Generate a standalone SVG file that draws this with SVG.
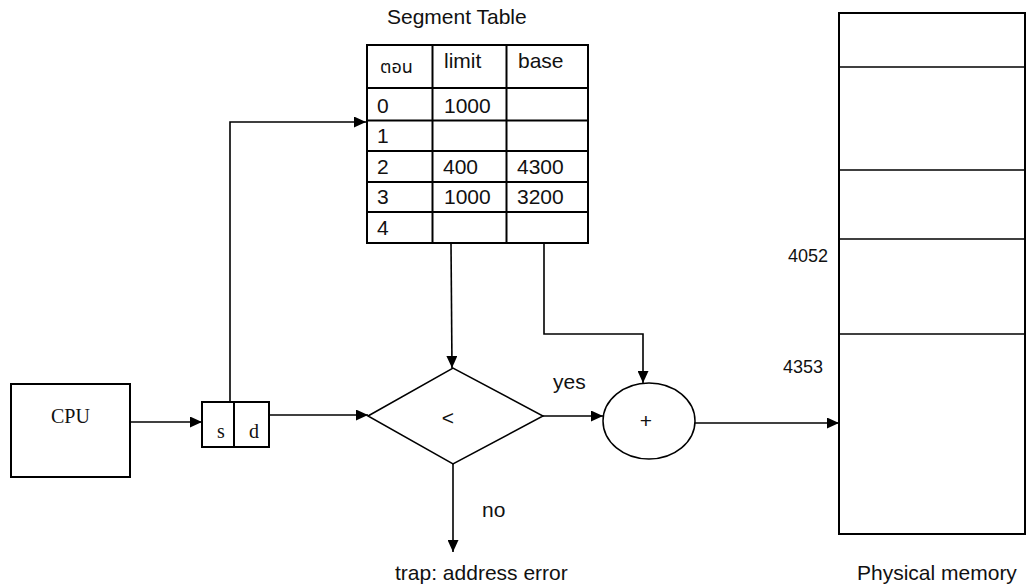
<svg xmlns="http://www.w3.org/2000/svg" width="1028" height="588" viewBox="0 0 1028 588">
  <style>
    .box { fill: #fff; stroke: #000; stroke-width: 2; }
    .rule { stroke: #000; stroke-width: 2; fill: none; }
    .div { stroke: #000; stroke-width: 1.5; fill: none; }
    .ln { stroke: #000; stroke-width: 1.6; fill: none; }
    .t { font-family: 'Liberation Sans', Arial, sans-serif; font-size: 21px; fill: #111; }
    .sm { font-size: 18px; }
    .serif { font-family: 'Liberation Serif', 'Times New Roman', serif; font-size: 20px; fill: #111; }
    .thai { font-family: 'Noto Sans Thai', 'Noto Sans', 'DejaVu Sans', sans-serif; font-size: 18px; fill: #111; }
  </style>
  <defs>
    <marker id="arr" viewBox="0 0 12 11" refX="12" refY="5.5" markerWidth="12" markerHeight="11" markerUnits="userSpaceOnUse" orient="auto">
      <path d="M0,0 L12,5.5 L0,11 z" fill="#000"/>
    </marker>
  </defs>

  <rect width="1028" height="588" fill="#fff"/>

  <!-- segment table -->
  <g id="segment-table">
    <text class="t" x="387" y="24">Segment Table</text>
    <rect class="box" x="367" y="45" width="221" height="198"/>
    <line class="rule" x1="432.5" y1="45" x2="432.5" y2="243"/>
    <line class="rule" x1="506.5" y1="45" x2="506.5" y2="243"/>
    <line class="rule" x1="367" y1="88" x2="588" y2="88"/>
    <line class="rule" x1="367" y1="120.5" x2="588" y2="120.5"/>
    <line class="rule" x1="367" y1="151" x2="588" y2="151"/>
    <line class="rule" x1="367" y1="182" x2="588" y2="182"/>
    <line class="rule" x1="367" y1="212" x2="588" y2="212"/>
    <text class="thai" x="380" y="73">ตอน</text>
    <text class="t" x="444" y="68">limit</text>
    <text class="t" x="518" y="68">base</text>
    <text class="t" x="377" y="113">0</text>
    <text class="t" x="444" y="113">1000</text>
    <text class="t" x="377" y="143">1</text>
    <text class="t" x="377" y="174">2</text>
    <text class="t" x="443" y="174">400</text>
    <text class="t" x="517" y="174">4300</text>
    <text class="t" x="377" y="204">3</text>
    <text class="t" x="444" y="204">1000</text>
    <text class="t" x="517" y="204">3200</text>
    <text class="t" x="377" y="235">4</text>
  </g>

  <!-- CPU -->
  <g id="cpu">
    <rect class="box" x="11" y="384" width="119" height="93"/>
    <text class="serif" x="51" y="423">CPU</text>
  </g>

  <!-- logical address s | d -->
  <g id="logical-address">
    <rect class="box" x="202" y="402" width="67" height="45"/>
    <line class="rule" x1="234" y1="402" x2="234" y2="447"/>
    <text class="serif" x="217" y="438">s</text>
    <text class="serif" x="249" y="438">d</text>
  </g>

  <!-- limit comparison -->
  <g id="compare">
    <polygon class="div" points="368,416 453,368 543,416 453,464" fill="#fff"/>
    <text class="t" x="448" y="425" text-anchor="middle" font-size="19">&lt;</text>
  </g>

  <!-- adder -->
  <g id="adder">
    <ellipse class="div" cx="649" cy="421" rx="46" ry="38" fill="#fff"/>
    <text class="t" x="646" y="428" text-anchor="middle" font-size="16">+</text>
  </g>

  <!-- physical memory -->
  <g id="physical-memory">
    <rect class="box" x="839" y="13" width="186" height="521"/>
    <line class="div" x1="839" y1="67" x2="1025" y2="67"/>
    <line class="div" x1="839" y1="170" x2="1025" y2="170"/>
    <line class="div" x1="839" y1="239" x2="1025" y2="239"/>
    <line class="div" x1="839" y1="334" x2="1025" y2="334"/>
    <text class="t sm" x="788" y="262">4052</text>
    <text class="t sm" x="783" y="373">4353</text>
    <text class="t" x="857" y="580" font-size="22">Physical memory</text>
  </g>

  <!-- connectors -->
  <g id="connectors">
    <line class="ln" x1="130" y1="422" x2="202" y2="422" marker-end="url(#arr)"/>
    <polyline class="ln" points="230,402 230,122 366,122" marker-end="url(#arr)"/>
    <line class="ln" x1="269" y1="415" x2="368" y2="415" marker-end="url(#arr)"/>
    <line class="ln" x1="451" y1="243" x2="452" y2="368" marker-end="url(#arr)"/>
    <polyline class="ln" points="544,243 544,334 643,334 643,383" marker-end="url(#arr)"/>
    <line class="ln" x1="543" y1="416" x2="603" y2="416" marker-end="url(#arr)"/>
    <line class="ln" x1="695" y1="423" x2="839" y2="423" marker-end="url(#arr)"/>
    <line class="ln" x1="453" y1="464" x2="453" y2="552" marker-end="url(#arr)"/>
  </g>

  <!-- branch labels -->
  <g id="labels">
    <text class="t" x="553" y="389">yes</text>
    <text class="t" x="482" y="517">no</text>
    <text class="t" x="395" y="580" font-size="22">trap: address error</text>
  </g>
</svg>
